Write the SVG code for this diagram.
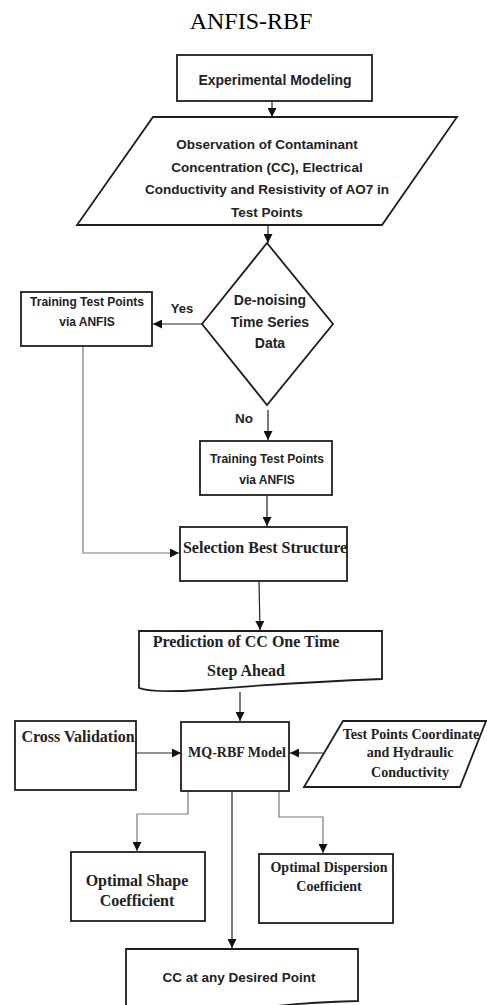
<svg xmlns="http://www.w3.org/2000/svg" width="487" height="1005" viewBox="0 0 487 1005">
<style>
.box{fill:#fff;stroke:#1e1e1e;stroke-width:1.8}
.c{fill:none;stroke:#222;stroke-width:1.2}
.g{fill:none;stroke:#7a7a7a;stroke-width:1.2}
.s{font-family:"Liberation Sans",Arial,sans-serif;font-weight:bold;fill:#222;text-anchor:middle}
.t{font-family:"Liberation Serif","Times New Roman",serif;font-weight:bold;fill:#222;text-anchor:middle}
</style>
<defs>
<marker id="ah" viewBox="0 0 10 10" refX="10" refY="5" markerWidth="9" markerHeight="9" markerUnits="userSpaceOnUse" orient="auto"><path d="M0,0 L10,5 L0,10 z" fill="#111"/></marker>
</defs>
<rect width="487" height="1005" fill="#fff"/>
<text x="251" y="29" font-family="Liberation Serif,'Times New Roman',serif" font-size="24" fill="#000" text-anchor="middle">ANFIS-RBF</text>

<g id="connectors">
<path class="c" d="M272,101 V117" marker-end="url(#ah)"/>
<path class="c" d="M268,225 V243" marker-end="url(#ah)"/>
<path class="c" d="M202,324 H153" marker-end="url(#ah)"/>
<path class="c" d="M268,410 V440" marker-end="url(#ah)"/>
<path class="g" d="M83,346 V553 H179" marker-end="url(#ah)"/>
<path class="c" d="M267,495 V526" marker-end="url(#ah)"/>
<path class="c" d="M259,581 L260,630" marker-end="url(#ah)"/>
<path class="c" d="M240,692 V721" marker-end="url(#ah)"/>
<path class="c" d="M136,753 H181" marker-end="url(#ah)"/>
<path class="c" d="M323,753 H290" marker-end="url(#ah)"/>
<path class="g" d="M188,791 V814 H137 V851" marker-end="url(#ah)"/>
<path class="c" d="M232,791 V948" marker-end="url(#ah)"/>
<path class="g" d="M279,791 V817 H323 V853" marker-end="url(#ah)"/>
<text class="s" x="182" y="313" font-size="13">Yes</text>
<text class="s" x="244" y="423" font-size="13.5">No</text>
</g>

<g id="experimental">
<rect class="box" x="177" y="55" width="195" height="46"/>
<text class="s" x="275" y="85" font-size="14">Experimental Modeling</text>
</g>

<g id="observation">
<path class="box" d="M153,117 H457 L382,225 H77 Z"/>
<text class="s" x="267" y="149" font-size="13.5">Observation of Contaminant</text>
<text class="s" x="267" y="172" font-size="13.5">Concentration (CC), Electrical</text>
<text class="s" x="267" y="194" font-size="13.5">Conductivity and Resistivity of AO7 in</text>
<text class="s" x="267" y="217" font-size="13.5">Test Points</text>
</g>

<g id="denoising">
<path class="box" d="M267,243 L333,324 L267,405 L202,324 Z"/>
<text class="s" x="270" y="305" font-size="14">De-noising</text>
<text class="s" x="270" y="327" font-size="14">Time Series</text>
<text class="s" x="270" y="348" font-size="14">Data</text>
</g>

<g id="training-yes">
<rect class="box" x="21" y="292" width="131" height="54"/>
<text class="s" x="87" y="306" font-size="12">Training Test Points</text>
<text class="s" x="87" y="326" font-size="12">via ANFIS</text>
</g>

<g id="training-no">
<rect class="box" x="200" y="441" width="132" height="54"/>
<text class="s" x="267" y="463" font-size="12">Training Test Points</text>
<text class="s" x="267" y="484" font-size="12">via ANFIS</text>
</g>

<g id="selection">
<rect class="box" x="180" y="527" width="167" height="54"/>
<text class="t" x="265" y="553" font-size="16">Selection Best Structure</text>
</g>

<g id="prediction">
<path class="box" d="M139,631 H382 V679 C330,681 250,686 200,690 C170,692 150,692 139,688 Z"/>
<text class="t" x="246" y="647" font-size="16">Prediction of CC One Time</text>
<text class="t" x="246" y="676" font-size="16">Step Ahead</text>
</g>

<g id="cross-validation">
<rect class="box" x="15" y="721" width="121" height="69"/>
<text class="t" x="78" y="742" font-size="16">Cross Validation</text>
</g>

<g id="mq-rbf">
<rect class="box" x="181" y="722" width="108" height="69"/>
<text class="t" x="237" y="757" font-size="14">MQ-RBF Model</text>
</g>

<g id="test-points">
<path class="box" d="M343,721 H486 L460,787 H304 Z"/>
<text class="t" x="411" y="739" font-size="14">Test Points Coordinate</text>
<text class="t" x="410" y="757" font-size="14">and Hydraulic</text>
<text class="t" x="410" y="777" font-size="14">Conductivity</text>
</g>

<g id="optimal-shape">
<rect class="box" x="71" y="852" width="134" height="69"/>
<text class="t" x="137" y="886" font-size="16">Optimal Shape</text>
<text class="t" x="137" y="906" font-size="16">Coefficient</text>
</g>

<g id="optimal-dispersion">
<rect class="box" x="259" y="854" width="134" height="69"/>
<text class="t" x="329" y="872" font-size="14">Optimal Dispersion</text>
<text class="t" x="329" y="891" font-size="14">Coefficient</text>
</g>

<g id="cc-desired">
<path class="box" d="M126,949 H358 V1001 C320,1002 290,1004 260,1008 L126,1010 Z"/>
<text class="s" x="239" y="982" font-size="13.5">CC at any Desired Point</text>
</g>
</svg>
